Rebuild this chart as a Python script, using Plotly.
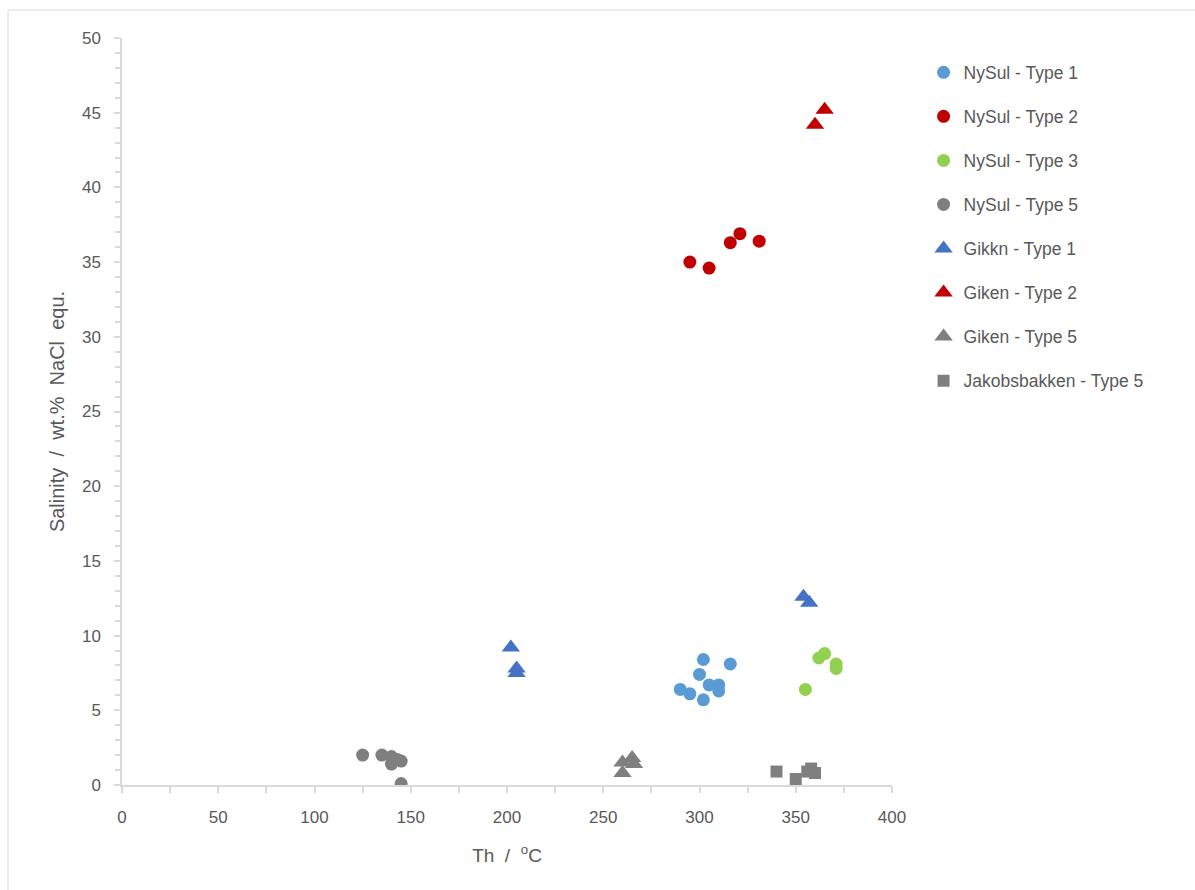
import plotly.graph_objects as go

# Homogenisation temperature (Th, °C) and salinity (wt.% NaCl equ.) per group
nysul1_th = [290, 295, 300, 302, 302, 305, 310, 310, 316]
nysul1_sal = [6.4, 6.1, 7.4, 8.4, 5.7, 6.7, 6.7, 6.3, 8.1]

nysul2_th = [295, 305, 316, 321, 331]
nysul2_sal = [35.0, 34.6, 36.3, 36.9, 36.4]

nysul3_th = [355, 362, 365, 371, 371]
nysul3_sal = [6.4, 8.5, 8.8, 8.1, 7.8]

nysul5_th = [125, 135, 140, 140, 143, 145, 145]
nysul5_sal = [2.0, 2.0, 1.9, 1.4, 1.7, 1.6, 0.1]

gikkn1_th = [202, 205, 205, 354, 357]
gikkn1_sal = [9.2, 7.8, 7.5, 12.6, 12.2]

giken2_th = [360, 365]
giken2_sal = [44.2, 45.2]

giken5_th = [260, 260, 265, 266]
giken5_sal = [1.5, 0.8, 1.8, 1.4]

jakob5_th = [340, 350, 356, 358, 360]
jakob5_sal = [0.9, 0.4, 0.9, 1.1, 0.8]

series = [
    ("NySul - Type 1", nysul1_th, nysul1_sal, "circle", "#5B9BD5", 13),
    ("NySul - Type 2", nysul2_th, nysul2_sal, "circle", "#C00000", 13),
    ("NySul - Type 3", nysul3_th, nysul3_sal, "circle", "#92D050", 13),
    ("NySul - Type 5", nysul5_th, nysul5_sal, "circle", "#7F7F7F", 13),
    ("Gikkn - Type 1", gikkn1_th, gikkn1_sal, "triangle-up", "#4472C4", 16),
    ("Giken - Type 2", giken2_th, giken2_sal, "triangle-up", "#C00000", 16),
    ("Giken - Type 5", giken5_th, giken5_sal, "triangle-up", "#7F7F7F", 16),
    ("Jakobsbakken - Type 5", jakob5_th, jakob5_sal, "square", "#7F7F7F", 12),
]

FONT = "Liberation Sans"
TXT = "#595959"
AXIS = "#D9D9D9"

fig = go.Figure()
for i, (name, xs, ys, sym, col, size) in enumerate(series):
    fig.add_trace(go.Scatter(
        x=xs, y=ys, mode="markers", name=name, legendgroup=f"g{i}",
        marker=dict(symbol=sym, color=col, size=size, line=dict(width=0)),
    ))

axis_common = dict(
    showgrid=False, zeroline=False, showline=True, linecolor=AXIS, linewidth=1.5,
    ticks="outside", ticklen=6, tickcolor=AXIS, tickwidth=1.5,
    tickfont=dict(family=FONT, size=17, color=TXT),
    ticklabelstandoff=10,
)

fig.update_xaxes(
    range=[0, 400], dtick=50, tick0=0,
    minor=dict(dtick=25, ticks="outside", ticklen=6, tickcolor=AXIS, tickwidth=1.5),
    title=dict(text="Th\u00a0\u00a0/\u00a0\u00a0<sup>o</sup>C",
               font=dict(family=FONT, size=19, color=TXT), standoff=23),
    **axis_common,
)
fig.update_yaxes(
    range=[0, 50], dtick=5, tick0=0,
    minor=dict(dtick=1, ticks="outside", ticklen=5, tickcolor=AXIS, tickwidth=1.5),
    title=dict(text="Salinity\u00a0\u00a0/\u00a0\u00a0wt.%\u00a0\u00a0NaCl\u00a0\u00a0equ.",
               font=dict(family=FONT, size=20, color=TXT), standoff=12),
    **axis_common,
)

fig.update_layout(
    width=1195, height=890,
    margin=dict(l=122, r=303, t=38, b=105),
    paper_bgcolor="white", plot_bgcolor="white",
    showlegend=True,
    legend=dict(
        x=1.041, y=0.978, xanchor="left", yanchor="top",
        font=dict(family=FONT, size=17.5, color=TXT),
        tracegroupgap=18.3, itemwidth=30,
        bgcolor="rgba(0,0,0,0)",
    ),
    shapes=[dict(
        type="rect", xref="paper", yref="paper",
        x0=-0.148, x1=1.4, y0=-0.16, y1=1.0375,
        line=dict(color="#D9D9D9", width=1), layer="below",
    )],
)

fig.write_html("out.html")
